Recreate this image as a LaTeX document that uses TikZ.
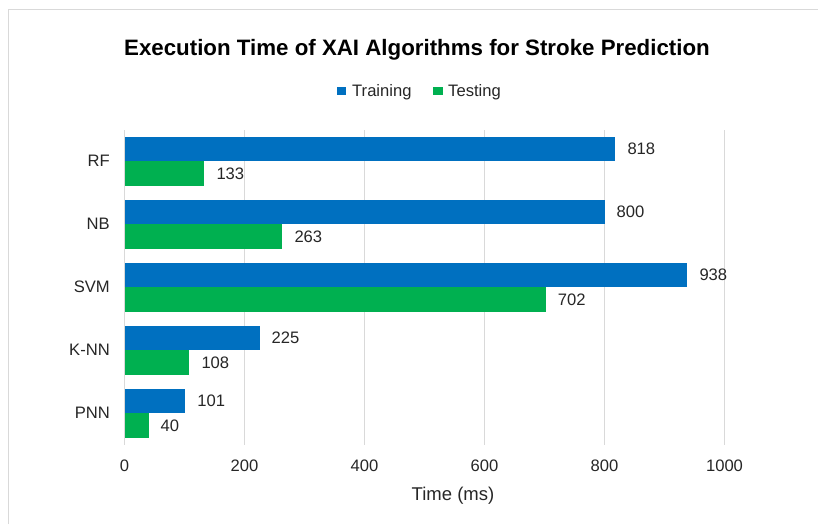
\documentclass[tikz,border=0pt]{standalone}
\usepackage{fontspec}
\setmainfont{Liberation Sans}
\definecolor{trainc}{HTML}{0070C0}
\definecolor{testc}{HTML}{00B050}
\definecolor{gridc}{HTML}{D9D9D9}
\definecolor{txtc}{HTML}{262626}
\begin{document}
\begin{tikzpicture}[x=1pt,y=-1pt,
  lbl/.style={font=\fontsize{16.6}{18}\selectfont, text=txtc, inner sep=0pt},
  titlestyle/.style={font=\fontsize{22.3}{24}\selectfont\bfseries, text=black, inner sep=0pt},
  axtitle/.style={font=\fontsize{18.5}{20}\selectfont, text=txtc, inner sep=0pt},
  gridline/.style={draw=gridc, line width=1pt},
  trainbar/.style={fill=trainc},
  testbar/.style={fill=testc}]
\useasboundingbox (0,0) rectangle (818,524);
\draw[gridc, line width=1.5pt] (8.5,524) -- (8.5,9.5) -- (818,9.5);
% title
\node[titlestyle, anchor=base] (title) at (417,55.5) {Execution Time of XAI Algorithms for Stroke Prediction};
% legend
\fill[trainbar] (336.7,86.7) rectangle (346,95.5);
\node[lbl, anchor=base west] (legtrain) at (352,96.9) {Training};
\fill[testbar] (433,86.7) rectangle (442.7,95.5);
\node[lbl, anchor=base west] (legtest) at (448,96.9) {Testing};
% grid and ticks
\foreach \v [count=\k] in {0,200,400,600,800,1000} {
  \draw[gridline] ({124.5+0.6*\v},130) -- ({124.5+0.6*\v},445);
  \node[lbl, anchor=base] (tick\k) at ({124.5+0.6*\v},471.5) {\v};
}
\node[axtitle, anchor=base] (xtitle) at (453,500.5) {Time (ms)};
% bars
\foreach \c/\nm/\tr/\te [count=\i] in {161/RF/818/133, 224/NB/800/263, 287/SVM/938/702, 350/K-NN/225/108, 413/PNN/101/40} {
  \fill[trainbar] (124.5,\c-24.5) rectangle ({124.5+0.6*\tr},\c);
  \fill[testbar] (124.5,\c) rectangle ({124.5+0.6*\te},\c+24.5);
  \node[lbl, anchor=base west] (trl\i) at ({124.5+0.6*\tr+12},\c-12.25+5.9) {\tr};
  \node[lbl, anchor=base west] (tel\i) at ({124.5+0.6*\te+12},\c+12.25+5.9) {\te};
  \node[lbl, anchor=base east] (cat\i) at (110,\c+5.9) {\nm};
}
\end{tikzpicture}
\end{document}
